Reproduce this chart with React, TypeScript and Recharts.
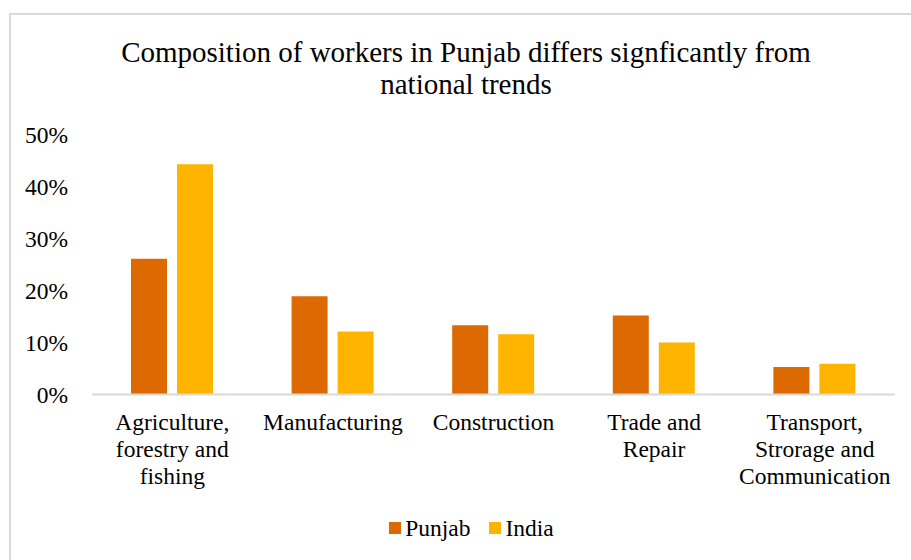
import { BarChart, Bar, XAxis, YAxis, Legend } from "recharts";

const categories = [
  "Agriculture,\nforestry and\nfishing",
  "Manufacturing",
  "Construction",
  "Trade and\nRepair",
  "Transport,\nStrorage and\nCommunication",
];
const punjab = [26.1, 18.9, 13.3, 15.2, 5.3];
const india = [44.3, 12.1, 11.6, 10.0, 5.9];
const yTicks = [0, 10, 20, 30, 40, 50];
const seriesNames = ["Punjab", "India"];

const FONT = '"Liberation Serif", "Times New Roman", Times, serif';
const COLORS: Record<string, string> = { Punjab: "#DC6A00", India: "#FFB400" };
const LABEL_SIZE = 23.5;

const data = categories.map((name, i) => ({ name, Punjab: punjab[i], India: india[i] }));

function CategoryTick({ x, y, payload }: any) {
  const lines = String(payload.value).split("\n");
  return (
    <text x={x} y={y} textAnchor="middle" fontFamily={FONT} fontSize={LABEL_SIZE} fill="#000">
      {lines.map((l, i) => (
        <tspan key={i} x={x} dy={i === 0 ? 35.5 : 26.8}>
          {l}
        </tspan>
      ))}
    </text>
  );
}

function LegendBox() {
  return (
    <div
      style={{
        height: 30,
        display: "flex",
        justifyContent: "center",
        alignItems: "center",
        paddingLeft: 32,
        fontFamily: FONT,
        fontSize: LABEL_SIZE,
        color: "#000",
      }}
    >
      {seriesNames.map((name, i) => (
        <div key={name} style={{ display: "flex", alignItems: "center", marginLeft: i ? 19 : 0 }}>
          <span style={{ width: 12, height: 12, background: COLORS[name], marginRight: 4 }} />
          <span>{name}</span>
        </div>
      ))}
    </div>
  );
}

export default function App() {
  return (
    <div
      style={{
        position: "fixed",
        left: 0,
        top: 0,
        width: 911,
        height: 560,
        overflow: "hidden",
        background: "#fff",
      }}
    >
      <div
        style={{
          position: "absolute",
          left: 128,
          top: -22,
          fontFamily: FONT,
          fontStyle: "italic",
          fontSize: 24,
          lineHeight: "27px",
          color: "#E36C09",
        }}
      >
        vs India
      </div>
      <div
        style={{
          position: "absolute",
          left: 9,
          top: 13,
          width: 930,
          height: 600,
          border: "2px solid #d9d9d9",
          boxSizing: "border-box",
        }}
      />
      <div
        style={{
          position: "absolute",
          left: 0,
          top: 35.9,
          width: 932,
          textAlign: "center",
          fontFamily: FONT,
          fontSize: 29,
          lineHeight: "32px",
          color: "#000",
        }}
      >
        Composition of workers in Punjab differs signficantly from
        <br />
        national trends
      </div>
      <div style={{ position: "absolute", left: 0, top: 0 }}>
        <BarChart
          width={911}
          height={560}
          data={data}
          margin={{ top: 134.5, right: 16, left: 0, bottom: 35.5 }}
          barSize={36}
          barGap={10}
        >
          <XAxis
            dataKey="name"
            interval={0}
            height={100}
            tickLine={false}
            tickSize={0}
            tickMargin={0}
            axisLine={{ stroke: "#d9d9d9", strokeWidth: 2 }}
            tick={<CategoryTick />}
          />
          <YAxis
            width={92}
            domain={[0, 50]}
            ticks={yTicks}
            interval={0}
            axisLine={false}
            tickLine={false}
            tickSize={0}
            tickMargin={24}
            tickFormatter={(v: number) => `${v}%`}
            tick={{ fontFamily: FONT, fontSize: LABEL_SIZE, fill: "#000" }}
          />
          <Legend content={<LegendBox />} wrapperStyle={{ top: 513, left: 0, width: 911 }} />
          {seriesNames.map((name) => (
            <Bar key={name} dataKey={name} fill={COLORS[name]} isAnimationActive={false} />
          ))}
        </BarChart>
      </div>
    </div>
  );
}
